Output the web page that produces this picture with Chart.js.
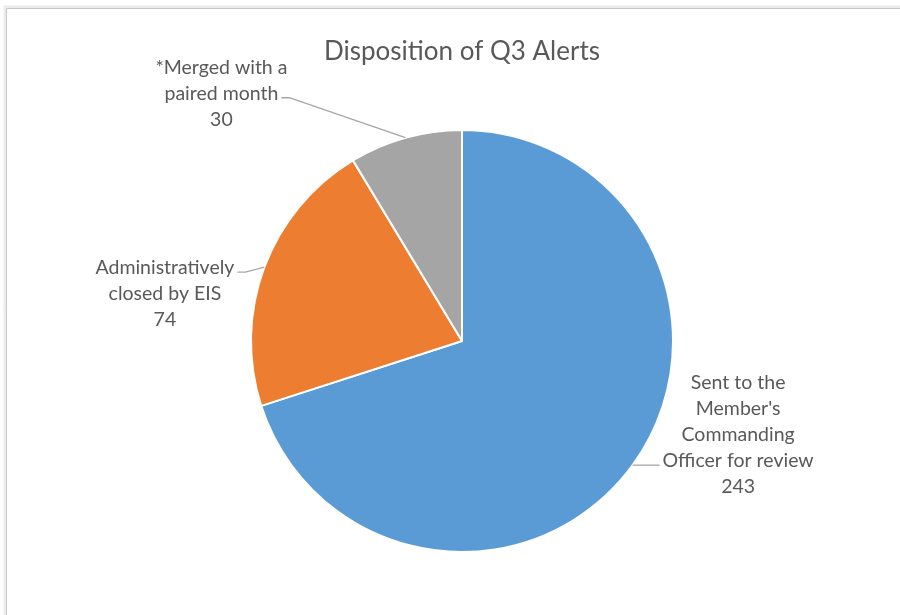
<!DOCTYPE html>
<html>
<head>
<meta charset="utf-8">
<script src="https://cdn.jsdelivr.net/npm/chart.js@4/dist/chart.umd.min.js"></script>
<style>
  html, body { margin: 0; padding: 0; background: #fff; }
  #wrap { width: 900px; height: 615px; position: relative; }
</style>
</head>
<body>
<div id="wrap"><canvas id="pie" width="900" height="615"></canvas></div>
<script>
const categories = [
    ["Sent to the", "Member's", "Commanding", "Officer for review"],
    ["Administratively", "closed by EIS"],
    ["*Merged with a", "paired month"]
];
const alertCounts = [243, 74, 30];
const sliceColors = ['#5B9BD5', '#ED7D31', '#A5A5A5'];
const chartTitle = 'Disposition of Q3 Alerts';

// where each label block sits, relative to where its leader line leaves the pie
// dx/dy = offset of the leader's far end, side = which side of the text the line meets
const labelPlacement = [
    { dx: 27, dy: 0, side: 'left', anchorLine: 3 },
    { dx: -27, dy: 5, side: 'right', anchorLine: 0 },
    { dx: -124, dy: -40, side: 'right', anchorLine: 1 }
];

const textColor = '#595959';
const labelFont = '19.5px Lato, "Open Sans", sans-serif';
const lineGap = 26;

const framePlugin = {
    id: 'frame',
    beforeDraw(chart) {
        const ctx = chart.ctx;
        ctx.save();
        ctx.fillStyle = '#fff';
        ctx.fillRect(0, 0, chart.width, chart.height);
        // soft shadow then border line (top and left only, right/bottom run off the picture)
        ctx.strokeStyle = 'rgba(0,0,0,0.08)';
        ctx.lineWidth = 3;
        ctx.beginPath();
        ctx.moveTo(5, chart.height);
        ctx.lineTo(5, 7);
        ctx.lineTo(chart.width, 7);
        ctx.stroke();
        ctx.strokeStyle = '#c8c8c8';
        ctx.lineWidth = 1;
        ctx.beginPath();
        ctx.moveTo(6.5, chart.height);
        ctx.lineTo(6.5, 8.5);
        ctx.lineTo(chart.width, 8.5);
        ctx.stroke();
        ctx.restore();
    },
    afterDraw(chart) {
        const ctx = chart.ctx;
        ctx.save();
        ctx.fillStyle = textColor;
        ctx.textAlign = 'center';
        ctx.textBaseline = 'middle';
        ctx.font = '26px Lato, "Open Sans", sans-serif';
        ctx.fillText(chartTitle, 462, 52);
        ctx.restore();
    }
};

const labelPlugin = {
    id: 'calloutLabels',
    afterDatasetsDraw(chart) {
        const ctx = chart.ctx;
        const meta = chart.getDatasetMeta(0);
        ctx.save();
        ctx.font = labelFont;
        ctx.fillStyle = textColor;
        ctx.textBaseline = 'middle';
        meta.data.forEach((arc, i) => {
            const mid = (arc.startAngle + arc.endAngle) / 2;
            const ex = arc.x + Math.cos(mid) * arc.outerRadius;
            const ey = arc.y + Math.sin(mid) * arc.outerRadius;
            const p = labelPlacement[i];
            const lx = ex + p.dx;
            const ly = ey + p.dy;
            const lines = categories[i].concat([String(alertCounts[i])]);
            const anchorW = ctx.measureText(lines[p.anchorLine]).width;
            // text block centre x, chosen so the anchor line ends/starts at the leader
            const cx = p.side === 'left' ? lx + 3 + anchorW / 2 : lx - 3 - anchorW / 2;
            const top = ly - 4 - p.anchorLine * lineGap;
            // leader line
            ctx.strokeStyle = '#a6a6a6';
            ctx.lineWidth = 1.3;
            ctx.beginPath();
            ctx.moveTo(ex, ey);
            if (p.side === 'left') {
                ctx.lineTo(lx - 2, ly);
            } else {
                ctx.lineTo(lx + 8, ly);
            }
            ctx.lineTo(lx, ly);
            ctx.stroke();
            ctx.textAlign = 'center';
            lines.forEach((t, k) => {
                ctx.fillText(t, cx, top + k * lineGap);
            });
        });
        ctx.restore();
    }
};

new Chart(document.getElementById('pie'), {
    type: 'pie',
    data: {
        labels: categories.map(c => c.join(' ')),
        datasets: [{
            data: alertCounts,
            backgroundColor: sliceColors,
            borderColor: '#ffffff',
            borderWidth: 2
        }]
    },
    options: {
        responsive: false,
        animation: false,
        radius: 211,
        layout: { padding: { left: 30, right: 6, top: 80, bottom: 13 } },
        plugins: {
            legend: { display: false },
            tooltip: { enabled: false },
            title: { display: false }
        }
    },
    plugins: [framePlugin, labelPlugin]
});
</script>
</body>
</html>
